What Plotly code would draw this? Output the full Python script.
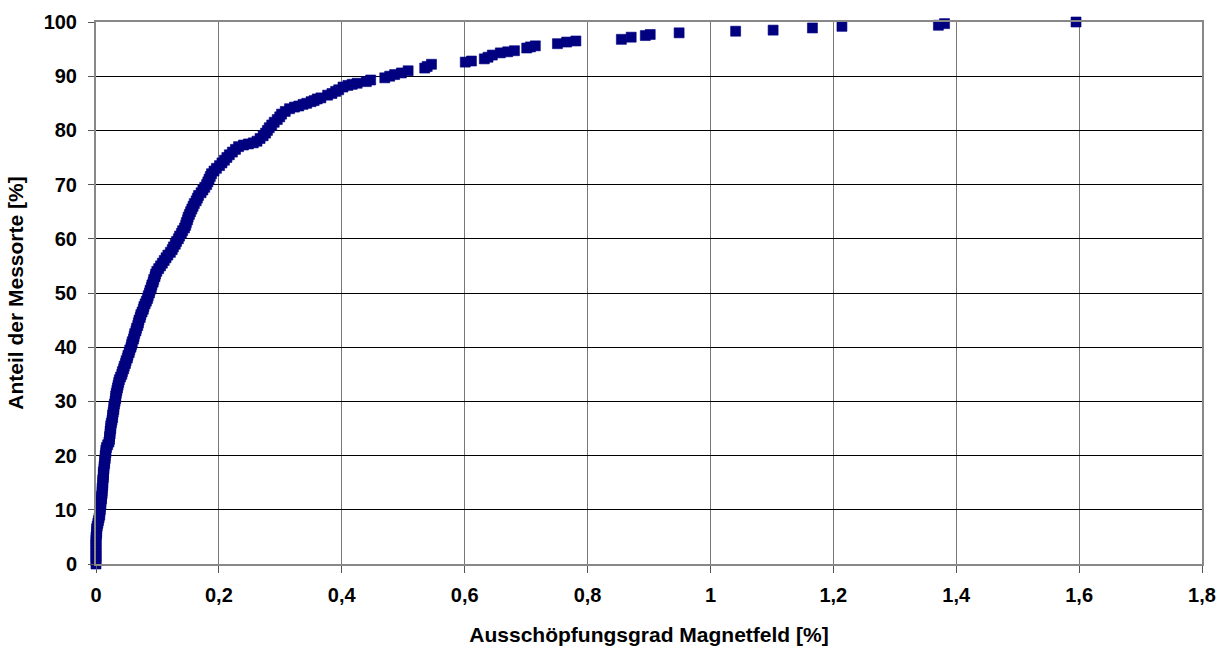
import plotly.graph_objects as go

# Cumulative share of measurement sites vs. magnetic-field exhaustion level
anteil = [
    0.0, 0.5, 1.0, 1.5, 2.0, 2.5, 3.0, 3.5, 4.0, 4.5, 5.0, 5.5, 6.0, 6.5, 7.0, 7.5,
    8.0, 8.5, 9.0, 9.5, 10.0, 10.5, 11.0, 11.5, 12.0, 12.5, 13.0, 13.5, 14.0, 14.5,
    15.0, 15.5, 16.0, 16.5, 17.0, 17.5, 18.0, 18.5, 19.0, 19.5, 20.0, 20.5, 21.0,
    21.5, 22.0, 22.5, 23.0, 23.5, 24.0, 24.5, 25.0, 25.5, 26.0, 26.5, 27.0, 27.5,
    28.0, 28.5, 29.0, 29.5, 30.0, 30.5, 31.0, 31.5, 32.0, 32.5, 33.0, 33.5, 34.0,
    34.5, 35.0, 35.5, 36.0, 36.5, 37.0, 37.5, 38.0, 38.5, 39.0, 39.5, 40.0, 40.5,
    41.0, 41.5, 42.0, 42.5, 43.0, 43.5, 44.0, 44.5, 45.0, 45.5, 46.0, 46.5, 47.0,
    47.5, 48.0, 48.5, 49.0, 49.5, 50.0, 50.5, 51.0, 51.5, 52.0, 52.5, 53.0, 53.5,
    54.0, 54.5, 55.0, 55.5, 56.0, 56.5, 57.0, 57.5, 58.0, 58.5, 59.0, 59.5, 60.0,
    60.5, 61.0, 61.5, 62.0, 62.5, 63.0, 63.5, 64.0, 64.5, 65.0, 65.5, 66.0, 66.5,
    67.0, 67.5, 68.0, 68.5, 69.0, 69.5, 70.0, 70.5, 71.0, 71.5, 72.0, 72.5, 73.0,
    73.5, 74.0, 74.5, 75.0, 75.5, 76.0, 76.5, 77.0, 77.3, 77.5, 77.7, 78.0, 78.5,
    79.0, 79.5, 80.0, 80.5, 81.0, 81.5, 82.0, 82.5, 83.0, 83.5, 84.0, 84.3, 84.5,
    84.8, 85.0, 85.3, 85.5, 85.8, 86.0, 86.5, 86.8, 87.2, 87.5, 88.0, 88.3, 88.5,
    88.7, 89.0, 89.3, 89.7, 90.0, 90.3, 90.6, 91.0, 91.5, 91.8, 92.2, 92.6, 92.8,
    93.2, 93.5, 93.9, 94.3, 94.5, 94.7, 95.2, 95.4, 95.6, 96.0, 96.3, 96.5, 96.8,
    97.2, 97.5, 97.7, 98.0, 98.3, 98.5, 98.9, 99.2, 99.4, 99.7, 100.0,
]

ausschoepfung = [
    0.000, 0.000, 0.000, 0.000, 0.000, 0.000, 0.000, 0.000, 0.000, 0.000, 0.000,
    0.001, 0.001, 0.001, 0.002, 0.003, 0.004, 0.005, 0.006, 0.006, 0.007, 0.007,
    0.008, 0.008, 0.009, 0.009, 0.010, 0.010, 0.010, 0.011, 0.011, 0.011, 0.012,
    0.012, 0.012, 0.013, 0.013, 0.014, 0.014, 0.015, 0.015, 0.016, 0.016, 0.017,
    0.019, 0.021, 0.022, 0.022, 0.023, 0.023, 0.024, 0.024, 0.025, 0.026, 0.027,
    0.027, 0.028, 0.029, 0.029, 0.030, 0.031, 0.032, 0.032, 0.033, 0.034, 0.035,
    0.036, 0.037, 0.038, 0.040, 0.042, 0.043, 0.045, 0.046, 0.048, 0.049, 0.051,
    0.052, 0.054, 0.055, 0.057, 0.058, 0.059, 0.061, 0.062, 0.063, 0.065, 0.066,
    0.068, 0.069, 0.070, 0.072, 0.073, 0.075, 0.077, 0.078, 0.080, 0.082, 0.084,
    0.085, 0.087, 0.088, 0.090, 0.091, 0.093, 0.094, 0.096, 0.097, 0.099, 0.102,
    0.105, 0.108, 0.111, 0.114, 0.117, 0.121, 0.124, 0.126, 0.129, 0.131, 0.134,
    0.136, 0.139, 0.141, 0.144, 0.146, 0.147, 0.149, 0.150, 0.152, 0.154, 0.156,
    0.158, 0.160, 0.163, 0.165, 0.167, 0.171, 0.174, 0.177, 0.180, 0.182, 0.184,
    0.186, 0.188, 0.192, 0.196, 0.201, 0.205, 0.209, 0.213, 0.217, 0.222, 0.227,
    0.232, 0.240, 0.248, 0.256, 0.262, 0.267, 0.272, 0.276, 0.279, 0.282, 0.286,
    0.290, 0.295, 0.299, 0.302, 0.308, 0.315, 0.323, 0.330, 0.337, 0.343, 0.350,
    0.355, 0.360, 0.366, 0.377, 0.384, 0.390, 0.395, 0.402, 0.410, 0.417, 0.425,
    0.440, 0.447, 0.470, 0.478, 0.486, 0.497, 0.508, 0.535, 0.539, 0.546, 0.601,
    0.611, 0.632, 0.638, 0.645, 0.658, 0.670, 0.681, 0.701, 0.707, 0.715, 0.751,
    0.766, 0.781, 0.855, 0.871, 0.894, 0.902, 0.949, 1.041, 1.102, 1.166, 1.214,
    1.371, 1.381, 1.595,
]

x_ticks = [0, 0.2, 0.4, 0.6, 0.8, 1.0, 1.2, 1.4, 1.6, 1.8]
x_tick_labels = ["0", "0,2", "0,4", "0,6", "0,8", "1", "1,2", "1,4", "1,6", "1,8"]
y_ticks = [0, 10, 20, 30, 40, 50, 60, 70, 80, 90, 100]
y_tick_labels = [str(v) for v in y_ticks]

FONT = "Arial, 'Liberation Sans', sans-serif"
NAVY = "#000080"

fig = go.Figure(
    go.Scatter(
        x=ausschoepfung,
        y=anteil,
        mode="markers",
        marker=dict(symbol="square", size=10, color=NAVY,
                    line=dict(width=0.6, color=NAVY)),
        cliponaxis=False,
        hoverinfo="x+y",
    )
)

fig.update_layout(
    width=1227,
    height=646,
    margin=dict(l=96, r=25, t=22, b=82),
    paper_bgcolor="white",
    plot_bgcolor="white",
    showlegend=False,
    font=dict(family=FONT, size=20, color="black"),
)

fig.update_xaxes(
    range=[0, 1.8],
    automargin=False,
    tickvals=x_ticks,
    ticktext=x_tick_labels,
    tickfont=dict(family=FONT, size=20, color="black", weight="bold"),
    ticks="outside",
    ticklen=7,
    tickcolor="#555555",
    tickwidth=1,
    ticklabelstandoff=5,
    showgrid=True,
    gridcolor="#777777",
    gridwidth=1,
    zeroline=False,
    showline=True,
    linecolor="#888888",
    linewidth=2,
    mirror=True,
    title=dict(text="<b>Ausschöpfungsgrad Magnetfeld [%]</b>",
               font=dict(family=FONT, size=21, color="black"),
               standoff=22),
)

fig.update_yaxes(
    range=[0, 100],
    automargin=False,
    tickvals=y_ticks,
    ticktext=y_tick_labels,
    tickfont=dict(family=FONT, size=20, color="black", weight="bold"),
    ticks="outside",
    ticklen=6,
    tickcolor="#555555",
    tickwidth=1,
    ticklabelstandoff=7,
    showgrid=True,
    gridcolor="#000000",
    gridwidth=1,
    zeroline=False,
    showline=True,
    linecolor="#888888",
    linewidth=2,
    mirror=True,
    title=dict(text="<b>Anteil der Messorte [%]</b>",
               font=dict(family=FONT, size=21, color="black"),
               standoff=14),
)

fig.write_html("out.html")
